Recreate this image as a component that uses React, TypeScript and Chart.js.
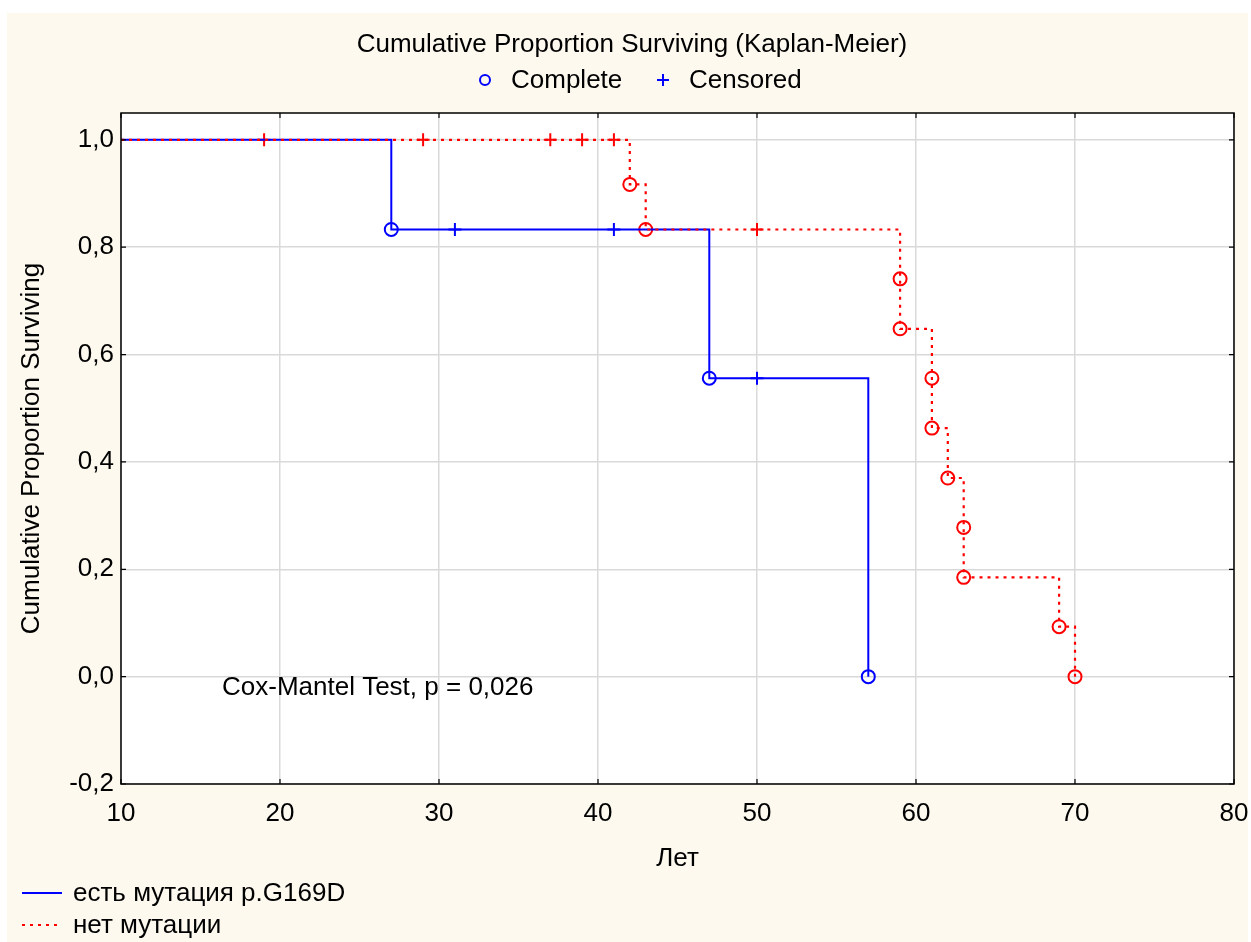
import React, { useEffect, useRef } from "react";
import { Chart, registerables } from "chart.js";

Chart.register(...registerables);

// Survival data (Kaplan-Meier estimates)
const mutTimes = [10, 27, 47, 57];
const mutSurv = [1.0, 0.833, 0.556, 0.0];
const mutCompleteTimes = [27, 47, 57];
const mutCompleteSurv = [0.833, 0.556, 0.0];
const mutCensTimes = [31, 41, 50];
const mutCensSurv = [0.833, 0.833, 0.556];

const noMutTimes = [10, 42, 43, 59, 59, 61, 61, 62, 63, 63, 69, 70];
const noMutSurv = [1.0, 0.917, 0.833, 0.741, 0.648, 0.556, 0.463, 0.37, 0.278, 0.185, 0.093, 0.0];
const noMutCompleteTimes = [42, 43, 59, 59, 61, 61, 62, 63, 63, 69, 70];
const noMutCompleteSurv = [0.917, 0.833, 0.741, 0.648, 0.556, 0.463, 0.37, 0.278, 0.185, 0.093, 0.0];
const noMutCensTimes = [19, 29, 37, 39, 41, 50];
const noMutCensSurv = [1.0, 1.0, 1.0, 1.0, 1.0, 0.833];

const xTicks = [10, 20, 30, 40, 50, 60, 70, 80];
const yTicks = [-0.2, 0.0, 0.2, 0.4, 0.6, 0.8, 1.0];

const seriesNames = ["есть мутация p.G169D", "нет мутации"];
const titleText = "Cumulative Proportion Surviving (Kaplan-Meier)";
const testText = "Cox-Mantel Test, p = 0,026";

const BLUE = "#0000ff";
const RED = "#ff0000";
const FONT = "'Liberation Sans', Arial, sans-serif";
const FS = 26;
const DOT_DASH = [3, 5];

const pts = (xs: number[], ys: number[]) => xs.map((x, i) => ({ x, y: ys[i] }));

const decor = {
  id: "decor",
  beforeDraw(chart: any) {
    const { ctx, width, height, chartArea: a } = chart;
    ctx.save();
    ctx.fillStyle = "#ffffff";
    ctx.fillRect(0, 0, width, height);
    ctx.fillStyle = "#fdf9ef";
    ctx.fillRect(7, 13, width - 10, height - 13);
    ctx.fillStyle = "#ffffff";
    ctx.fillRect(a.left, a.top, a.right - a.left, a.bottom - a.top);
    ctx.restore();
  },
  afterDraw(chart: any) {
    const { ctx, chartArea: a, scales } = chart;
    const xs = scales.x;
    const ys = scales.y;
    ctx.save();
    // frame
    ctx.strokeStyle = "#000000";
    ctx.lineWidth = 1.5;
    ctx.strokeRect(a.left, a.top, a.right - a.left, a.bottom - a.top);
    // inward tick marks
    ctx.lineWidth = 1.2;
    ctx.beginPath();
    xTicks.forEach((v) => {
      const px = xs.getPixelForValue(v);
      ctx.moveTo(px, a.bottom);
      ctx.lineTo(px, a.bottom - 5);
      ctx.moveTo(px, a.top);
      ctx.lineTo(px, a.top + 5);
    });
    yTicks.forEach((v) => {
      const py = ys.getPixelForValue(v);
      ctx.moveTo(a.left, py);
      ctx.lineTo(a.left + 5, py);
      ctx.moveTo(a.right, py);
      ctx.lineTo(a.right - 5, py);
    });
    ctx.stroke();

    // title and marker legend
    ctx.fillStyle = "#000000";
    ctx.font = `${FS}px ${FONT}`;
    ctx.textAlign = "center";
    ctx.textBaseline = "middle";
    ctx.fillText(titleText, 632, 45);
    ctx.textAlign = "left";
    ctx.fillText("Complete", 511, 81);
    ctx.fillText("Censored", 689, 81);
    ctx.strokeStyle = BLUE;
    ctx.lineWidth = 2;
    ctx.beginPath();
    ctx.arc(485, 80, 5, 0, Math.PI * 2);
    ctx.stroke();
    ctx.beginPath();
    ctx.moveTo(657, 80);
    ctx.lineTo(669, 80);
    ctx.moveTo(663, 74);
    ctx.lineTo(663, 86);
    ctx.stroke();

    // test annotation
    ctx.fillStyle = "#000000";
    ctx.fillText(testText, 222, 688);

    // series legend
    ctx.lineWidth = 2;
    ctx.strokeStyle = BLUE;
    ctx.beginPath();
    ctx.moveTo(22, 893);
    ctx.lineTo(62, 893);
    ctx.stroke();
    ctx.strokeStyle = RED;
    ctx.lineWidth = 2;
    ctx.setLineDash(DOT_DASH);
    ctx.beginPath();
    ctx.moveTo(22, 925);
    ctx.lineTo(62, 925);
    ctx.stroke();
    ctx.setLineDash([]);
    ctx.fillText(seriesNames[0], 73, 894);
    ctx.fillText(seriesNames[1], 73, 926);
    ctx.restore();
  },
};

export default function App() {
  const ref = useRef<HTMLCanvasElement>(null);

  useEffect(() => {
    if (!ref.current) return;
    const chart = new Chart(ref.current, {
      type: "scatter",
      data: {
        datasets: [
          {
            label: seriesNames[1],
            type: "line",
            data: pts(noMutTimes, noMutSurv),
            stepped: "before",
            borderColor: RED,
            borderWidth: 2.2,
            borderDash: DOT_DASH,
            pointRadius: 0,
            fill: false,
          },
          {
            label: seriesNames[0],
            type: "line",
            data: pts(mutTimes, mutSurv),
            stepped: "before",
            borderColor: BLUE,
            borderWidth: 2,
            pointRadius: 0,
            fill: false,
          },
          {
            label: "nm-complete",
            data: pts(noMutCompleteTimes, noMutCompleteSurv),
            pointStyle: "circle",
            pointRadius: 6.5,
            borderColor: RED,
            borderWidth: 2,
            backgroundColor: "rgba(0,0,0,0)",
          },
          {
            label: "nm-censored",
            data: pts(noMutCensTimes, noMutCensSurv),
            pointStyle: "cross",
            pointRadius: 6.5,
            borderColor: RED,
            borderWidth: 2,
          },
          {
            label: "m-complete",
            data: pts(mutCompleteTimes, mutCompleteSurv),
            pointStyle: "circle",
            pointRadius: 6.5,
            borderColor: BLUE,
            borderWidth: 2,
            backgroundColor: "rgba(0,0,0,0)",
          },
          {
            label: "m-censored",
            data: pts(mutCensTimes, mutCensSurv),
            pointStyle: "cross",
            pointRadius: 6.5,
            borderColor: BLUE,
            borderWidth: 2,
          },
        ],
      },
      options: {
        animation: false,
        responsive: false,
        events: [],
        layout: { padding: { left: 0, top: 113, right: 17, bottom: 0 } },
        plugins: {
          legend: { display: false },
          title: { display: false },
          tooltip: { enabled: false },
        },
        scales: {
          x: {
            type: "linear",
            min: 10,
            max: 80,
            afterBuildTicks: (s: any) => {
              s.ticks = xTicks.map((v) => ({ value: v }));
            },
            afterFit: (s: any) => {
              s.height = 158;
              s.paddingLeft = 0;
              s.paddingRight = 0;
            },
            grid: { color: "#d9d9d9", lineWidth: 1.5, drawTicks: false },
            border: { display: false },
            ticks: {
              color: "#000",
              padding: 14,
              font: { family: FONT, size: FS },
              maxRotation: 0,
            },
            title: {
              display: true,
              text: "Лет",
              color: "#000",
              font: { family: FONT, size: FS },
              padding: { bottom: 68, top: 0 },
            },
          },
          y: {
            type: "linear",
            min: -0.2,
            max: 1.05,
            afterBuildTicks: (s: any) => {
              s.ticks = yTicks.map((v) => ({ value: v }));
            },
            afterFit: (s: any) => {
              s.width = 121;
              s.paddingTop = 0;
              s.paddingBottom = 0;
            },
            grid: { color: "#d9d9d9", lineWidth: 1.5, drawTicks: false },
            border: { display: false },
            ticks: {
              color: "#000",
              padding: 7,
              font: { family: FONT, size: FS },
              callback: (v: any) => Number(v).toFixed(1).replace(".", ","),
            },
            title: {
              display: true,
              text: "Cumulative Proportion Surviving",
              color: "#000",
              font: { family: FONT, size: FS },
              padding: { top: 16, bottom: 0 },
            },
          },
        },
      },
      plugins: [decor],
    });
    return () => chart.destroy();
  }, []);

  return (
    <div style={{ position: "fixed", left: 0, top: 0, width: 1251, height: 942 }}>
      <canvas ref={ref} width={1251} height={942} style={{ width: 1251, height: 942, display: "block" }} />
    </div>
  );
}
